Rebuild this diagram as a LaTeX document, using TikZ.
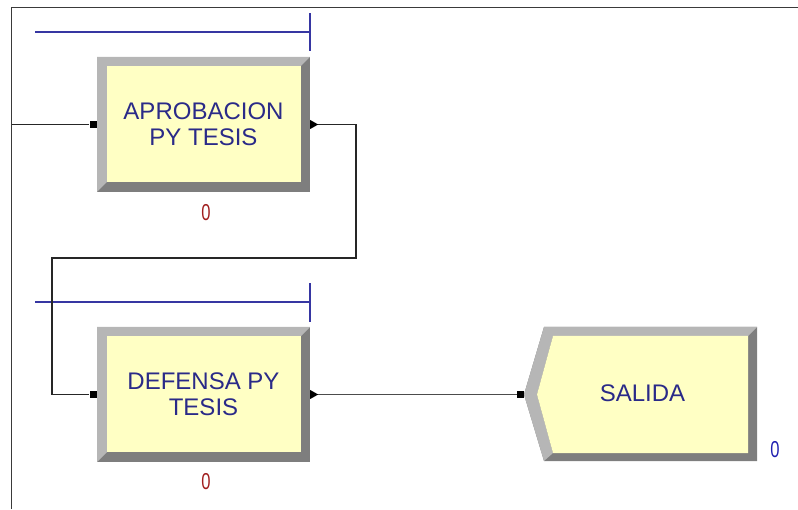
\documentclass[tikz,border=0pt]{standalone}
\usepackage{fontspec}
\setmainfont{Liberation Sans}
\usetikzlibrary{calc}
\definecolor{boxfill}{HTML}{FFFFC4}
\definecolor{lightbev}{HTML}{B6B6B6}
\definecolor{darkbev}{HTML}{7E7E7E}
\definecolor{labelblue}{HTML}{2A2A88}
\definecolor{barblue}{HTML}{3636A2}
\definecolor{zerored}{HTML}{A01E1E}
\definecolor{zeroblue}{HTML}{2020B0}
\definecolor{framecol}{HTML}{3A3A3A}
\tikzset{
  x=1pt, y=1pt,
  label text/.style={font=\fontsize{24}{26}\selectfont, text=labelblue, align=center, inner sep=0pt, minimum width=213pt, minimum height=135pt},
  inport/.style={fill=black, inner sep=0pt, minimum size=7pt},
  conn/.style={draw=black!85, line width=1.3pt},
  bar/.style={draw=barblue, line width=1.2pt},
  zerotext/.style={font=\fontsize{23}{23}\selectfont, inner sep=0pt, xscale=0.72},
}
\begin{document}
\begin{tikzpicture}
\useasboundingbox (0,0) rectangle (798,509);
% frame
\draw[framecol, line width=1.6pt] (11.5,0) -- (11.5,501.5) -- (798,501.5);

% APROBACION box
\fill[darkbev] (97,317) rectangle (310,452);
\fill[lightbev] (97,317) -- (97,452) -- (310,452) -- (301,443) -- (107,443) -- (107,327) -- cycle;
\fill[boxfill] (107,327) rectangle (301,443);
\node[label text] (aprob) at (203.5,384.5) {APROBACION\\PY TESIS};

% DEFENSA box
\fill[darkbev] (97,47) rectangle (310,182);
\fill[lightbev] (97,47) -- (97,182) -- (310,182) -- (301,173) -- (107,173) -- (107,57) -- cycle;
\fill[boxfill] (107,57) rectangle (301,173);
\node[label text] (defensa) at (203.5,114.5) {DEFENSA PY\\TESIS};

% SALIDA shape
\fill[darkbev] (544,182) -- (757,182) -- (757,48) -- (544,48) -- (524,114.5) -- cycle;
\fill[lightbev] (524,114.5) -- (544,182) -- (757,182) -- (748,173) -- (553,173) -- (537,114.5) -- (553,56) -- (544,48) -- cycle;
\fill[boxfill] (553,173) -- (748,173) -- (748,56) -- (553,56) -- (537,114.5) -- cycle;
\node[label text, minimum width=211pt, minimum height=117pt] (salida) at (642.5,116) {SALIDA};

% queue bars
\draw[bar] (35,477) -- (310,477);
\draw[bar] (310,458) -- (310,496);
\draw[bar] (35,207) -- (310,207);
\draw[bar] (310,187) -- (310,226);

% counters
\node[zerotext, text=zerored] (z1) at (206,296) {0};
\node[zerotext, text=zerored] (z2) at (206,27) {0};
\node[zerotext, text=zeroblue] (z3) at (775,59) {0};

% ports
\node[inport, anchor=east] (aprob-in) at (aprob.west) {};
\node[inport, anchor=east] (defensa-in) at (defensa.west) {};
\node[inport, anchor=east] (salida-in) at (524,114.5) {};
\fill[black] (aprob.east) -- ++(0,4.5) -- ++(8,-4.5) -- ++(-8,-4.5) -- cycle;
\fill[black] (defensa.east) -- ++(0,4.5) -- ++(8,-4.5) -- ++(-8,-4.5) -- cycle;
\coordinate (aprob-out) at ($(aprob.east)+(8,0)$);
\coordinate (defensa-out) at ($(defensa.east)+(8,0)$);
\coordinate (entry) at (11.5,384.5);

% connectors
\draw[conn] (entry) -- (aprob-in.west);
\draw[conn] (aprob-out) -| (356,251) -| (52,114.5) -- (defensa-in.west);
\draw[conn, draw=black!70] (defensa-out) -- (salida-in.west);
\end{tikzpicture}
\end{document}
